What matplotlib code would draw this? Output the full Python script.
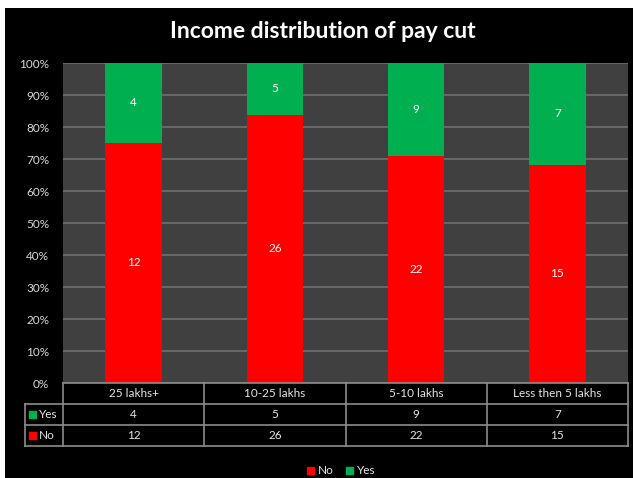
import numpy as np
import matplotlib
matplotlib.use("Agg")
from matplotlib import pyplot as plt
from matplotlib.patches import Rectangle

# Respondents per income bracket
categories = ['25 lakhs+', '10-25 lakhs', '5-10 lakhs', 'Less then 5 lakhs']
no_counts = [12, 26, 22, 15]
yes_counts = [4, 5, 9, 7]
series_names = ['No', 'Yes']
series_colors = ['#ff0000', '#00b050']

plt.rcParams['font.family'] = ['Lato', 'DejaVu Sans']

W, H = 633, 478
fig = plt.figure(figsize=(W / 100, H / 100), dpi=100)
fig.patch.set_facecolor('white')


def fx(px):
    return px / W


def fy(py):
    return 1 - py / H


# black chart background (image has a thin white margin top/left)
bg = fig.add_axes([fx(5), 0, 1 - fx(5), fy(8)])
bg.set_facecolor('black')
bg.set_xticks([])
bg.set_yticks([])
for s in bg.spines.values():
    s.set_visible(False)

# plot area in pixel coords
left, right, top, bottom = 63, 628, 63, 383
ax = fig.add_axes([fx(left), fy(bottom), fx(right - left), fy(top) - fy(bottom)])
ax.set_facecolor('#404040')

no = np.array(no_counts, dtype=float)
yes = np.array(yes_counts, dtype=float)
total = no + yes
no_pct = no / total * 100
yes_pct = yes / total * 100
x = np.arange(len(categories))

ax.bar(x, no_pct, width=0.4, color=series_colors[0], zorder=3)
ax.bar(x, yes_pct, width=0.4, bottom=no_pct, color=series_colors[1], zorder=3)
for i in range(len(x)):
    ax.text(x[i], no_pct[i] / 2, str(no_counts[i]), color='white', fontsize=8.5,
            ha='center', va='center', zorder=4)
    ax.text(x[i], no_pct[i] + yes_pct[i] / 2, str(yes_counts[i]), color='white',
            fontsize=8.5, ha='center', va='center', zorder=4)

ax.set_xlim(-0.5, len(categories) - 0.5)
ax.set_ylim(0, 100)
ax.set_yticks(np.arange(0, 101, 10))
ax.set_yticklabels(['%d%%' % v for v in range(0, 101, 10)])
ax.tick_params(axis='y', colors='#d9d9d9', labelsize=8.5, length=0, pad=10)
ax.set_xticks([])
ax.grid(axis='y', color='#707070', linewidth=1.2, zorder=1)
for s in ax.spines.values():
    s.set_visible(False)

fig.text(fx(323), fy(32), 'Income distribution of pay cut', color='white',
         fontsize=16.5, fontweight='bold', ha='center', va='center')

# data table under the plot
tab = fig.add_axes([0, 0, 1, 1], facecolor='none')
tab.set_xlim(0, W)
tab.set_ylim(H, 0)
tab.axis('off')
line_c = '#8c8c8c'
row_y = [383, 404, 425, 446]
col_w = (right - left) / len(categories)
col_x = [left + i * col_w for i in range(len(categories) + 1)]
tx0 = 25

tab.plot([left, right], [row_y[0], row_y[0]], color=line_c, lw=1.2)
for yy in row_y[1:]:
    tab.plot([tx0, right], [yy, yy], color=line_c, lw=1.2)
tab.plot([tx0, tx0], [row_y[1], row_y[3]], color=line_c, lw=1.2)
for xx in col_x:
    tab.plot([xx, xx], [row_y[0], row_y[3]], color=line_c, lw=1.2)

txt_c = '#e6e6e6'
for i, c in enumerate(categories):
    cx = (col_x[i] + col_x[i + 1]) / 2
    tab.text(cx, (row_y[0] + row_y[1]) / 2, c, color=txt_c, fontsize=8.5,
             ha='center', va='center')
    tab.text(cx, (row_y[1] + row_y[2]) / 2, str(yes_counts[i]), color=txt_c,
             fontsize=8.5, ha='center', va='center')
    tab.text(cx, (row_y[2] + row_y[3]) / 2, str(no_counts[i]), color=txt_c,
             fontsize=8.5, ha='center', va='center')

for r, name, col in [(1, series_names[1], series_colors[1]), (2, series_names[0], series_colors[0])]:
    my = (row_y[r] + row_y[r + 1]) / 2
    tab.add_patch(Rectangle((tx0 + 4, my - 3.5), 7, 7, color=col))
    tab.text(tx0 + 14, my, name, color=txt_c, fontsize=8.5, ha='left', va='center')

# legend at the bottom
leg_y = 470
for lx, name, col in [(307, series_names[0], series_colors[0]), (346, series_names[1], series_colors[1])]:
    tab.add_patch(Rectangle((lx, leg_y - 3.5), 7, 7, color=col))
    tab.text(lx + 11, leg_y, name, color=txt_c, fontsize=8.5, ha='left', va='center')

fig.savefig('out.png', dpi=100, facecolor=fig.get_facecolor())
